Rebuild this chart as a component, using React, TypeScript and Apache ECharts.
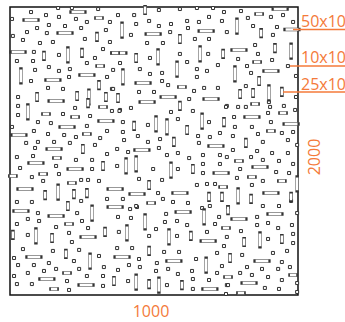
import React, { useEffect, useRef } from "react";
import * as echarts from "echarts";

// Field: 1000 wide x 2000 high. Each entry is [x, y] of the part's centre.
const squares10x10: [number, number][] = [
  [73,1965],[125,1944],[375,1944],[7,1917],[170,1931],[229,1917],[267,1896],[347,1896],[59,1826],[94,1854],
  [135,1875],[191,1868],[247,1854],[128,1819],[10,1799],[260,1778],[45,1771],[104,1750],[149,1757],[333,1840],
  [347,1757],[83,1688],[170,1667],[323,1708],[295,1646],[24,1625],[80,1625],[267,1611],[87,1563],[135,1583],
  [170,1556],[208,1569],[73,1486],[205,1514],[337,1514],[354,1431],[132,1438],[184,1431],[28,1375],[28,1313],
  [226,1299],[306,1986],[167,1993],[215,1993],[517,1979],[590,1986],[705,1993],[743,1965],[431,1944],[438,1882],
  [483,1903],[517,1868],[559,1882],[556,1826],[615,1903],[618,1854],[656,1896],[691,1931],[736,1903],[753,1826],
  [420,1806],[642,1778],[691,1778],[476,1750],[531,1750],[486,1646],[382,1611],[590,1674],[615,1618],[688,1674],
  [722,1597],[451,1569],[486,1535],[528,1542],[358,1563],[649,1569],[684,1556],[649,1514],[528,1486],[549,1458],
  [358,1431],[448,1410],[500,1410],[639,1417],[674,1438],[722,1438],[622,1361],[753,1313],[382,1285],[420,1299],
  [649,1993],[802,1972],[906,1931],[948,1944],[983,1896],[826,1924],[844,1868],[927,1861],[913,1806],[851,1736],
  [861,1674],[792,1639],[910,1632],[965,1590],[823,1590],[837,1542],[993,1521],[819,1451],[993,1375],[750,1306],
  [792,1306],[819,1306],[903,1306],[951,1313],[354,1278],[380,1278],[28,1250],[184,1257],[278,1243],[97,1201],
  [142,1194],[7,1167],[267,1174],[83,1139],[132,1118],[188,1111],[229,1097],[337,1139],[56,1056],[97,1063],
  [153,1063],[208,1056],[295,1042],[313,1090],[87,1021],[372,1014],[24,958],[80,965],[337,979],[229,938],
  [285,938],[372,896],[35,882],[160,896],[285,875],[76,819],[170,840],[115,792],[247,799],[271,799],
  [309,792],[247,653],[337,667],[24,646],[76,646],[559,1271],[635,1278],[479,1181],[583,1222],[691,1201],
  [392,1201],[392,1132],[729,1125],[444,1104],[521,1083],[479,1063],[396,1076],[653,1104],[694,1097],[656,1056],
  [517,1021],[410,993],[545,972],[583,986],[622,951],[670,972],[729,972],[497,875],[583,875],[670,910],
  [670,847],[729,910],[448,806],[528,799],[649,764],[684,771],[712,771],[514,708],[392,667],[531,667],
  [566,646],[618,639],[417,597],[441,611],[667,604],[899,1340],[778,1236],[896,1264],[990,1285],[781,1167],
  [840,1167],[906,1201],[774,1104],[861,1118],[944,1125],[983,1132],[878,1063],[965,1076],[997,1042],[774,1007],
  [858,1000],[910,986],[965,986],[753,958],[837,958],[878,938],[934,931],[983,910],[799,875],[924,854],
  [969,847],[788,813],[878,792],[840,764],[757,611],[878,618],[934,618],[97,569],[233,569],[250,514],
  [24,493],[62,528],[101,514],[160,472],[271,465],[62,417],[205,431],[215,368],[45,319],[149,306],
  [240,313],[309,271],[14,257],[28,208],[83,208],[135,222],[222,236],[326,194],[62,153],[118,167],
  [160,181],[240,181],[14,132],[267,132],[323,132],[198,97],[24,76],[76,76],[323,63],[205,35],
  [438,618],[420,535],[375,542],[542,563],[538,507],[580,514],[615,486],[726,542],[712,493],[694,618],
  [378,438],[507,458],[483,410],[580,410],[684,438],[372,326],[424,326],[535,299],[587,299],[719,292],
  [448,250],[646,250],[510,222],[413,208],[451,194],[375,174],[507,167],[549,181],[632,167],[719,153],
  [583,146],[410,97],[545,69],[635,111],[691,104],[635,42],[753,69],[858,542],[997,569],[858,486],
  [896,500],[931,465],[979,486],[802,444],[753,403],[896,389],[983,424],[983,361],[743,340],[913,292],
  [962,306],[806,278],[944,229],[736,201],[823,194],[875,181],[931,181],[972,194],[799,153],[840,139],
  [896,125],[944,104],[997,83],[757,69],[885,49],[934,42],[997,21],[750,7],[976,653],
];

const bars50x10Horizontal: [number, number][] = [
  [236,1965],[73,1910],[191,1819],[28,1688],[149,1493],[267,1528],[160,1347],[497,1813],[681,1833],[378,1681],
  [462,1472],[549,1375],[698,1361],[476,1340],[938,1986],[979,1844],[795,1701],[906,1556],[333,1208],[198,1167],
  [31,1111],[153,1014],[90,917],[226,875],[52,736],[365,736],[715,1035],[458,1007],[733,847],[590,708],
  [441,701],[365,611],[840,1236],[976,1188],[868,889],[906,708],[38,583],[160,549],[271,403],[83,264],
  [128,111],[264,69],[601,576],[688,375],[389,264],[569,236],[694,42],[795,528],[920,563],[875,236],
  [830,83],
];

const bars50x10Vertical: [number, number][] = [
  [201,1667],[38,1521],[274,1375],[389,1840],[514,1653],[660,1674],[580,1569],[392,1514],[788,1868],[976,1694],
  [781,1535],[899,1403],[62,1271],[167,715],[507,1188],[545,1167],[667,1208],[403,896],[438,910],[559,868],
  [792,688],[997,771],[285,569],[90,410],[278,236],[469,507],[674,542],[406,431],[552,403],[681,208],
  [438,90],[517,69],[868,382],
];

const bars25x10Horizontal: [number, number][] = [
  [309,1924],[365,1681],[313,1590],[323,1306],[597,1444],[865,1951],[858,1618],[851,1326],[125,1257],[226,1236],
  [267,1118],[163,951],[115,840],[10,826],[215,778],[740,750],[490,639],[948,1264],[906,1139],[795,931],
  [840,819],[944,792],[205,493],[198,153],[153,42],[750,465],[757,125],[983,139],[802,14],
];

const bars25x10Vertical: [number, number][] = [
  [302,1792],[118,1660],[250,1681],[309,1458],[94,1375],[233,1382],[333,1375],[375,1368],[469,1979],[590,1778],
  [438,1646],[740,1674],[590,1313],[872,1819],[920,1715],[865,1486],[799,1396],[844,1403],[944,1410],[271,1333],
  [253,1014],[323,896],[122,694],[222,701],[267,708],[201,618],[431,1174],[743,1201],[615,1146],[569,1063],
  [635,875],[483,764],[691,681],[736,681],[819,1056],[837,667],[976,681],[146,396],[10,417],[330,438],
  [194,285],[361,97],[628,410],[483,306],[483,76],[597,69],[757,590],[813,368],[944,389],[764,257],
];

const calloutLabels = ["50x10", "10x10", "25x10"];
const widthLabel = "1000";
const heightLabel = "2000";

const ORANGE = "#f47a3a";
const FONT = "'Open Sans', 'Noto Sans', sans-serif";

function partSeries(data: [number, number][], size: number | number[]) {
  return {
    type: "scatter",
    data,
    symbol: "rect",
    symbolSize: size,
    clip: false,
    silent: true,
    z: 3,
    itemStyle: { color: "#ffffff", borderColor: "#333333", borderWidth: 1, opacity: 1 },
  };
}

export default function App() {
  const ref = useRef<HTMLDivElement>(null);
  useEffect(() => {
    if (!ref.current) return;
    const chart = echarts.init(ref.current, undefined, { renderer: "svg" });
    const option: any = {
      animation: false,
      backgroundColor: "#ffffff",
      grid: {
        left: 10,
        top: 7,
        width: 288,
        height: 288,
        show: true,
        borderColor: "#111111",
        borderWidth: 1.5,
        backgroundColor: "#ffffff",
      },
      xAxis: { type: "value", min: 0, max: 1000, show: false },
      yAxis: { type: "value", min: 0, max: 2000, show: false },
      series: [
        partSeries(squares10x10, 3),
        partSeries(bars50x10Horizontal, [15, 3]),
        partSeries(bars50x10Vertical, [3, 15]),
        partSeries(bars25x10Horizontal, [8, 3]),
        partSeries(bars25x10Vertical, [3, 8.5]),
      ],
      graphic: [
        { type: "line", shape: { x1: 293, y1: 29.5, x2: 345, y2: 29.5 }, style: { stroke: ORANGE, lineWidth: 1.3 }, z: 10 },
        { type: "line", shape: { x1: 290, y1: 66, x2: 345, y2: 66 }, style: { stroke: ORANGE, lineWidth: 1.3 }, z: 10 },
        { type: "line", shape: { x1: 283, y1: 92, x2: 345, y2: 92 }, style: { stroke: ORANGE, lineWidth: 1.3 }, z: 10 },
        { type: "text", x: 301, y: 21, z: 10, style: { text: calloutLabels[0], fill: ORANGE, font: `16px ${FONT}`, textVerticalAlign: "middle" } },
        { type: "text", x: 301, y: 57, z: 10, style: { text: calloutLabels[1], fill: ORANGE, font: `16px ${FONT}`, textVerticalAlign: "middle" } },
        { type: "text", x: 301, y: 83.5, z: 10, style: { text: calloutLabels[2], fill: ORANGE, font: `16px ${FONT}`, textVerticalAlign: "middle" } },
        { type: "text", x: 151, y: 310.5, z: 10, style: { text: widthLabel, fill: ORANGE, font: `16px ${FONT}`, textAlign: "center", textVerticalAlign: "middle" } },
        { type: "text", x: 314, y: 157, rotation: Math.PI / 2, z: 10, style: { text: heightLabel, fill: ORANGE, font: `16px ${FONT}`, textAlign: "center", textVerticalAlign: "middle" } },
      ],
    };
    chart.setOption(option);
    return () => chart.dispose();
  }, []);
  return <div ref={ref} style={{ width: 345, height: 322, position: "absolute", left: 0, top: 0 }} />;
}
